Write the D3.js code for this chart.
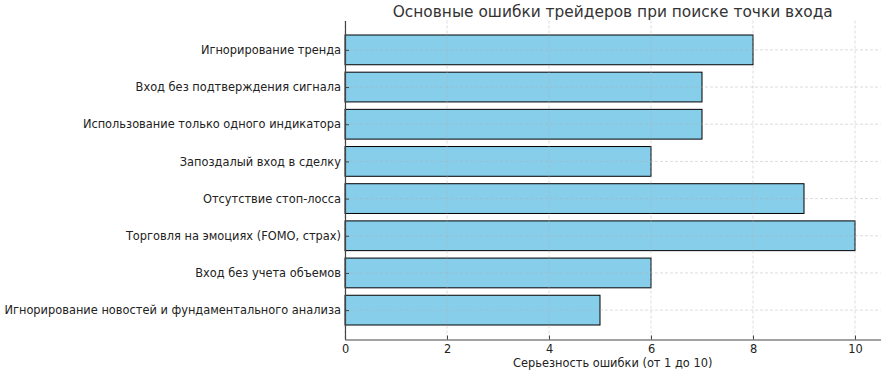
<!DOCTYPE html>
<html><head><meta charset="utf-8">
<script src="https://cdn.jsdelivr.net/npm/d3@7"></script>
<style>body{margin:0;background:#fff}</style>
</head><body><svg id="c" width="883" height="374"></svg>
<script>
const categories = [
  "Игнорирование тренда",
  "Вход без подтверждения сигнала",
  "Использование только одного индикатора",
  "Запоздалый вход в сделку",
  "Отсутствие стоп-лосса",
  "Торговля на эмоциях (FOMO, страх)",
  "Вход без учета объемов",
  "Игнорирование новостей и фундаментального анализа"
];
const values = [8, 7, 7, 6, 9, 10, 6, 5];
const xTicks = [0, 2, 4, 6, 8, 10];
const title = "Основные ошибки трейдеров при поиске точки входа";
const xLabel = "Серьезность ошибки (от 1 до 10)";

const svg = d3.select("#c");
const font = "DejaVu Sans, sans-serif";
const fs = 11.4;
const L = 345, R = 880.5, T = 20.5, B = 339.5;
const x = d3.scaleLinear().domain([0, 10.5]).range([L, R]);
const yIdx = d3.scaleLinear().domain([-0.79, 7.79]).range([T, B]);
const barH = yIdx(0.4) - yIdx(-0.4);

svg.append("g").selectAll("rect").data(values).join("rect")
  .attr("x", x(0)).attr("y", (d, i) => yIdx(i) - barH / 2)
  .attr("width", d => x(d) - x(0)).attr("height", barH)
  .attr("fill", "#87CEEB").attr("stroke", "#000").attr("stroke-width", 1);

const g = svg.append("g").attr("stroke", "#b0b0b0").attr("stroke-opacity", 0.55)
  .attr("stroke-dasharray", "3,2").attr("stroke-width", 0.8);
g.selectAll("line.v").data(xTicks).join("line").attr("class", "v")
  .attr("x1", d => x(d)).attr("x2", d => x(d)).attr("y1", T).attr("y2", B);
g.selectAll("line.h").data(categories).join("line").attr("class", "h")
  .attr("x1", L).attr("x2", R).attr("y1", (d, i) => yIdx(i)).attr("y2", (d, i) => yIdx(i));

const xAxis = d3.axisBottom(x).tickValues(xTicks).tickSizeInner(-4).tickSizeOuter(0).tickPadding(5);
const gx = svg.append("g").attr("transform", `translate(0,${B})`).call(xAxis);
gx.select(".domain").attr("stroke", "#444").attr("stroke-width", 1.2);
gx.selectAll(".tick line").attr("stroke", "#444");
gx.selectAll("text").attr("font-family", font).attr("font-size", fs).attr("fill", "#222");

const yAxis = d3.axisLeft(yIdx).tickValues(d3.range(categories.length))
  .tickFormat(i => categories[i]).tickSizeInner(-4).tickSizeOuter(0).tickPadding(4);
const gy = svg.append("g").attr("transform", `translate(${L},0)`).call(yAxis);
gy.select(".domain").attr("stroke", "#444").attr("stroke-width", 1.2);
gy.selectAll(".tick line").attr("stroke", "#444");
gy.selectAll("text").attr("font-family", font).attr("font-size", fs).attr("fill", "#222");

svg.append("text").attr("x", (L + R) / 2).attr("y", 16.5).attr("text-anchor", "middle")
  .attr("font-family", font).attr("font-size", 15.4).attr("fill", "#333").text(title);
svg.append("text").attr("x", (L + R) / 2).attr("y", 367).attr("text-anchor", "middle")
  .attr("font-family", font).attr("font-size", fs).attr("fill", "#222").text(xLabel);
</script></body></html>
